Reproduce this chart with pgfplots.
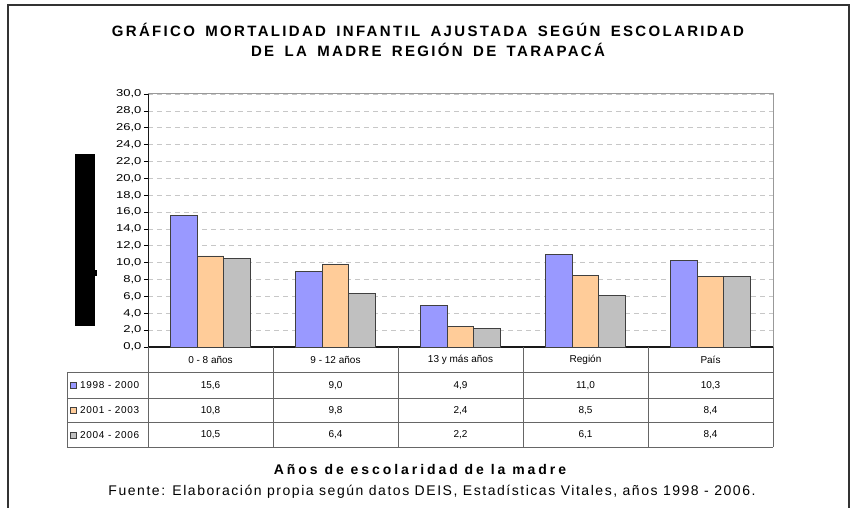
\documentclass[border=0pt]{standalone}
\usepackage{pgfplots}
\pgfplotsset{compat=1.18}
\usepackage{pgfplotstable}
\usepackage{fontspec}
\setmainfont{Liberation Sans}
\newfontfamily\titlefont[LetterSpace=15.5, WordSpace=1.6]{Liberation Sans}
\newfontfamily\xtitlefont[LetterSpace=21]{Liberation Sans}
\newfontfamily\srcfont[LetterSpace=11]{Liberation Sans}
\newfontfamily\legfont[LetterSpace=7]{Liberation Sans}
\newfontfamily\tickfont[FakeStretch=1.3]{Liberation Sans}
\definecolor{cA}{HTML}{9999FF}
\definecolor{cB}{HTML}{FFCC99}
\definecolor{cC}{HTML}{C0C0C0}
\definecolor{edge}{HTML}{404040}
\pgfplotstableread{
x a b c
0 15.6 10.8 10.5
1 9.0 9.8 6.4
2 4.9 2.4 2.2
3 11.0 8.5 6.1
4 10.3 8.4 8.4
}\datatable
\begin{document}
\begin{tikzpicture}[x=1pt,y=1pt]
\useasboundingbox (-148,-161) rectangle (705,347);
\draw[line width=1.4pt, color=black!80] (-140,-175) -- (-140,342) -- (701,342) -- (701,-175);
\begin{axis}[
  at={(0,0)}, anchor=south west,
  scale only axis, width=625pt, height=253pt,
  xmin=-0.5, xmax=4.5, ymin=0, ymax=30,
  axis x line=bottom, axis y line=left,
  axis line style={-},
  x axis line style={line width=1.4pt, black!90},
  y axis line style={line width=0.8pt, black!90},
  ybar=0pt, bar width=26.5pt,
  ytick={0,2,...,30},
  xtick={0.5,1.5,2.5,3.5}, xticklabels={},
  tick align=outside, major tick length=4pt,
  tick style={black, line width=0.6pt},
  yticklabel style={font=\tickfont\fontsize{10}{10}\selectfont, xshift=1pt},
  /pgf/number format/.cd, fixed, fixed zerofill, precision=1, use comma, assume math mode=true,
  /pgfplots/.cd,
  ymajorgrids, grid style={black!22, line width=0.6pt, dash pattern=on 5pt off 4pt},
  clip=false,
]
\addplot[fill=cA, draw=edge, line width=0.8pt] table[x=x, y=a] {\datatable};
\addplot[fill=cB, draw=edge, line width=0.8pt] table[x=x, y=b] {\datatable};
\addplot[fill=cC, draw=edge, line width=0.8pt] table[x=x, y=c] {\datatable};
\draw[black!40, line width=1pt] (rel axis cs:0,1) -- (rel axis cs:1,1) -- (rel axis cs:1,0);
\end{axis}
% data table
\begin{scope}[black!60, line width=0.8pt]
\foreach \xx in {0,125,250,375,500,625} \draw (\xx,0) -- (\xx,-100);
\draw (-81,-25.5) -- (-81,-100);
\foreach \yy in {-25.5,-51,-75.5,-100} \draw (-81,\yy) -- (625,\yy);
\end{scope}
\begin{scope}[font=\fontsize{10}{10}\selectfont]
\node at (62.5,-12.5) {0 - 8 años};
\node at (187.5,-12.5) {9 - 12 años};
\node at (312.5,-12.5) {13 y más años};
\node at (437.5,-12.5) {Región};
\node at (562.5,-12.5) {País};
\foreach \lab/\yy/\col in {1998 - 2000/-38.5/cA, 2001 - 2003/-63.5/cB, 2004 - 2006/-88/cC} {
  \fill[\col, draw=edge, line width=0.5pt] (-78,\yy-3) rectangle (-72,\yy+3);
  \node[anchor=west, inner sep=0pt, font=\legfont\fontsize{10}{10}\selectfont] at (-68,\yy) {\lab};
}
\node at (62.5,-38.5) {15,6};
\node at (62.5,-63.5) {10,8};
\node at (62.5,-88) {10,5};
\node at (187.5,-38.5) {9,0};
\node at (187.5,-63.5) {9,8};
\node at (187.5,-88) {6,4};
\node at (312.5,-38.5) {4,9};
\node at (312.5,-63.5) {2,4};
\node at (312.5,-88) {2,2};
\node at (437.5,-38.5) {11,0};
\node at (437.5,-63.5) {8,5};
\node at (437.5,-88) {6,1};
\node at (562.5,-38.5) {10,3};
\node at (562.5,-63.5) {8,4};
\node at (562.5,-88) {8,4};
\end{scope}
% obscured y-axis title (rendered as black block)
\fill[black] (-73,21) rectangle (-53,193);
\fill[black] (-53,71) rectangle (-51,77);
% titles
\node[font=\titlefont\fontsize{15}{15}\selectfont\bfseries] at (280,317) {GRÁFICO MORTALIDAD INFANTIL AJUSTADA SEGÚN ESCOLARIDAD};
\node[font=\titlefont\fontsize{15}{15}\selectfont\bfseries] at (280,297) {DE LA MADRE REGIÓN DE TARAPACÁ};
\node[font=\xtitlefont\fontsize{14}{14}\selectfont\bfseries] at (272,-122) {Años de escolaridad de la madre};
\node[font=\srcfont\fontsize{14}{14}\selectfont] at (284,-145) {Fuente: Elaboración propia según datos DEIS, Estadísticas Vitales, años 1998 - 2006.};
\end{tikzpicture}
\end{document}
